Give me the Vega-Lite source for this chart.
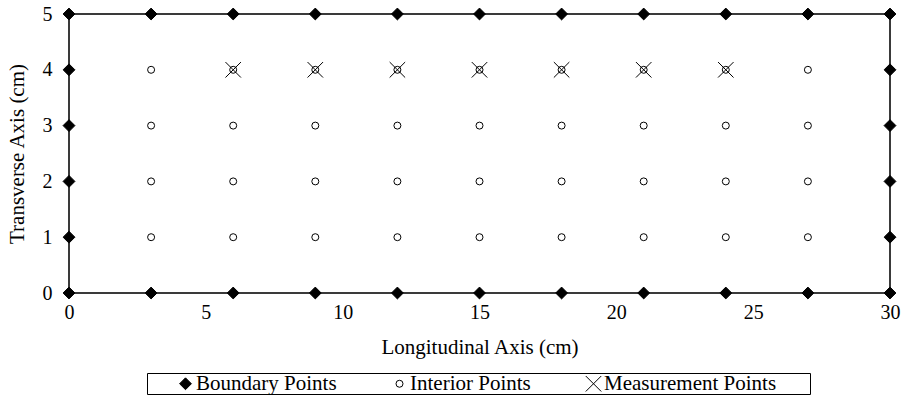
{
  "$schema": "https://vega.github.io/schema/vega-lite/v6.json",
  "width": 821,
  "height": 279,
  "autosize": {"type": "none"},
  "padding": {"left": 69, "top": 14, "right": 15, "bottom": 111},
  "background": "white",
  "config": {
    "view": {"stroke": "#3a3a3a", "strokeWidth": 2},
    "font": "'Liberation Serif', serif",
    "axis": {"labelFont": "'Liberation Serif', serif", "titleFont": "'Liberation Serif', serif", "labelFontSize": 20, "titleFontSize": 21, "titleFontWeight": "normal", "labelColor": "black", "titleColor": "black", "grid": false, "ticks": false, "domain": false, "labelFlush": false, "labelOverlap": false},
    "legend": {"labelFont": "'Liberation Serif', serif", "titleFont": "'Liberation Serif', serif", "labelFontSize": 21, "labelColor": "black", "labelLimit": 400}
  },
  "data": {"values": [
    {"x": 0, "y": 0, "series": "Boundary Points"},
    {"x": 3, "y": 0, "series": "Boundary Points"},
    {"x": 6, "y": 0, "series": "Boundary Points"},
    {"x": 9, "y": 0, "series": "Boundary Points"},
    {"x": 12, "y": 0, "series": "Boundary Points"},
    {"x": 15, "y": 0, "series": "Boundary Points"},
    {"x": 18, "y": 0, "series": "Boundary Points"},
    {"x": 21, "y": 0, "series": "Boundary Points"},
    {"x": 24, "y": 0, "series": "Boundary Points"},
    {"x": 27, "y": 0, "series": "Boundary Points"},
    {"x": 30, "y": 0, "series": "Boundary Points"},
    {"x": 0, "y": 5, "series": "Boundary Points"},
    {"x": 3, "y": 5, "series": "Boundary Points"},
    {"x": 6, "y": 5, "series": "Boundary Points"},
    {"x": 9, "y": 5, "series": "Boundary Points"},
    {"x": 12, "y": 5, "series": "Boundary Points"},
    {"x": 15, "y": 5, "series": "Boundary Points"},
    {"x": 18, "y": 5, "series": "Boundary Points"},
    {"x": 21, "y": 5, "series": "Boundary Points"},
    {"x": 24, "y": 5, "series": "Boundary Points"},
    {"x": 27, "y": 5, "series": "Boundary Points"},
    {"x": 30, "y": 5, "series": "Boundary Points"},
    {"x": 0, "y": 1, "series": "Boundary Points"},
    {"x": 0, "y": 2, "series": "Boundary Points"},
    {"x": 0, "y": 3, "series": "Boundary Points"},
    {"x": 0, "y": 4, "series": "Boundary Points"},
    {"x": 30, "y": 1, "series": "Boundary Points"},
    {"x": 30, "y": 2, "series": "Boundary Points"},
    {"x": 30, "y": 3, "series": "Boundary Points"},
    {"x": 30, "y": 4, "series": "Boundary Points"},
    {"x": 3, "y": 1, "series": "Interior Points"},
    {"x": 6, "y": 1, "series": "Interior Points"},
    {"x": 9, "y": 1, "series": "Interior Points"},
    {"x": 12, "y": 1, "series": "Interior Points"},
    {"x": 15, "y": 1, "series": "Interior Points"},
    {"x": 18, "y": 1, "series": "Interior Points"},
    {"x": 21, "y": 1, "series": "Interior Points"},
    {"x": 24, "y": 1, "series": "Interior Points"},
    {"x": 27, "y": 1, "series": "Interior Points"},
    {"x": 3, "y": 2, "series": "Interior Points"},
    {"x": 6, "y": 2, "series": "Interior Points"},
    {"x": 9, "y": 2, "series": "Interior Points"},
    {"x": 12, "y": 2, "series": "Interior Points"},
    {"x": 15, "y": 2, "series": "Interior Points"},
    {"x": 18, "y": 2, "series": "Interior Points"},
    {"x": 21, "y": 2, "series": "Interior Points"},
    {"x": 24, "y": 2, "series": "Interior Points"},
    {"x": 27, "y": 2, "series": "Interior Points"},
    {"x": 3, "y": 3, "series": "Interior Points"},
    {"x": 6, "y": 3, "series": "Interior Points"},
    {"x": 9, "y": 3, "series": "Interior Points"},
    {"x": 12, "y": 3, "series": "Interior Points"},
    {"x": 15, "y": 3, "series": "Interior Points"},
    {"x": 18, "y": 3, "series": "Interior Points"},
    {"x": 21, "y": 3, "series": "Interior Points"},
    {"x": 24, "y": 3, "series": "Interior Points"},
    {"x": 27, "y": 3, "series": "Interior Points"},
    {"x": 3, "y": 4, "series": "Interior Points"},
    {"x": 6, "y": 4, "series": "Interior Points"},
    {"x": 9, "y": 4, "series": "Interior Points"},
    {"x": 12, "y": 4, "series": "Interior Points"},
    {"x": 15, "y": 4, "series": "Interior Points"},
    {"x": 18, "y": 4, "series": "Interior Points"},
    {"x": 21, "y": 4, "series": "Interior Points"},
    {"x": 24, "y": 4, "series": "Interior Points"},
    {"x": 27, "y": 4, "series": "Interior Points"},
    {"x": 6, "y": 4, "series": "Measurement Points"},
    {"x": 9, "y": 4, "series": "Measurement Points"},
    {"x": 12, "y": 4, "series": "Measurement Points"},
    {"x": 15, "y": 4, "series": "Measurement Points"},
    {"x": 18, "y": 4, "series": "Measurement Points"},
    {"x": 21, "y": 4, "series": "Measurement Points"},
    {"x": 24, "y": 4, "series": "Measurement Points"}
  ]},
  "mark": {"type": "point", "filled": true, "stroke": "black", "strokeWidth": 1, "opacity": 1, "fillOpacity": 1, "strokeOpacity": 1},
  "encoding": {
    "x": {"field": "x", "type": "quantitative", "scale": {"domain": [0, 30], "nice": false, "zero": false},
      "axis": {"values": [0, 5, 10, 15, 20, 25, 30], "labelPadding": 9, "title": "Longitudinal Axis (cm)", "titleY": 54, "titleBaseline": "middle"}},
    "y": {"field": "y", "type": "quantitative", "scale": {"domain": [0, 5], "nice": false, "zero": false},
      "axis": {"values": [0, 1, 2, 3, 4, 5], "labelPadding": 17, "title": "Transverse Axis (cm)", "titleX": -52, "titleY": 139.5, "titleBaseline": "middle", "titleAngle": -90}},
    "shape": {"field": "series", "type": "nominal",
      "scale": {"domain": ["Boundary Points", "Interior Points", "Measurement Points"], "range": ["diamond", "circle", "M-1,-1L1,1M-1,1L1,-1"]},
      "legend": {"title": " ", "titleOrient": "right", "titlePadding": 34, "orient": "none", "legendX": 78, "legendY": 359, "direction": "horizontal", "strokeColor": "black", "padding": 0, "symbolOffset": 28, "columnPadding": 24, "labelOffset": 0, "symbolStrokeColor": "black", "symbolStrokeWidth": 1, "labelLimit": 400}},
    "fill": {"field": "series", "type": "nominal",
      "scale": {"domain": ["Boundary Points", "Interior Points", "Measurement Points"], "range": ["black", "white", "transparent"]}},
    "size": {"field": "series", "type": "nominal",
      "scale": {"type": "ordinal", "domain": ["Boundary Points", "Interior Points", "Measurement Points"], "range": [140, 49, 240]}}
  }
}
